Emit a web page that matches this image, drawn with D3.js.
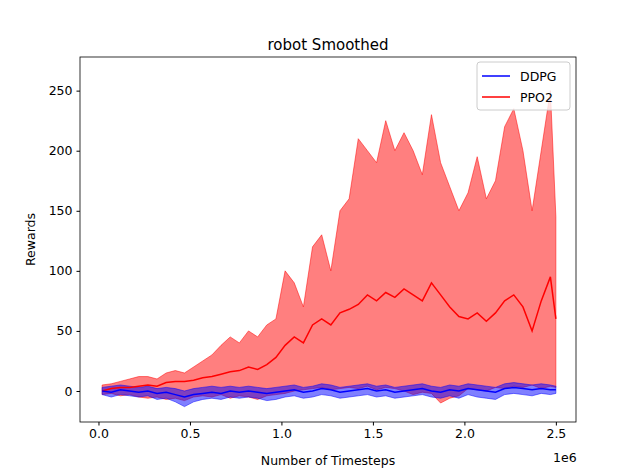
<!DOCTYPE html>
<html><head><meta charset="utf-8">
<script src="https://cdn.jsdelivr.net/npm/d3@7"></script>
<style>body{margin:0;background:#fff}text{font-family:"DejaVu Sans",sans-serif}</style>
</head><body><svg id="c" width="640" height="476"></svg>
<script>
const steps = [0.02,0.07,0.12,0.17,0.22,0.27,0.32,0.37,0.42,0.47,0.52,0.57,0.62,0.67,0.72,0.77,0.82,0.87,0.92,0.97,1.02,1.07,1.12,1.17,1.22,1.27,1.32,1.37,1.42,1.47,1.52,1.57,1.62,1.67,1.72,1.77,1.82,1.87,1.92,1.97,2.02,2.07,2.12,2.17,2.22,2.27,2.32,2.37,2.42,2.47,2.50];
const ppoMean = [0,2,3,3,4,5,4,7,8,8,9,11,12,14,16,17,20,18,22,28,38,45,40,55,60,55,65,68,72,80,75,82,78,85,80,75,90,80,70,62,60,65,58,65,75,80,70,50,75,95,60];
const ppoUpper = [5,6,8,10,12,12,10,15,17,15,20,25,30,38,45,40,50,45,55,60,100,90,70,120,130,100,150,160,210,200,190,225,200,215,200,180,230,190,170,150,165,195,160,175,220,235,200,150,200,250,145];
const ppoLower = [-3,-2,-4,-3,-5,-6,-5,-7,-6,-8,-5,-4,-5,-3,-6,-4,-5,-7,-4,-3,-2,0,1,2,3,1,2,3,2,4,1,3,2,0,-3,-1,-2,-10,-6,-4,2,1,0,3,2,4,3,5,2,4,3];
const ddpgMean = [0,-1,1,0,-1,0,-2,-1,-3,-5,-3,-2,-1,-2,0,-1,0,-1,-2,-1,0,1,-1,0,2,1,-1,0,1,2,0,1,-1,0,1,2,0,-1,1,0,2,1,0,-1,2,3,2,1,2,1,1];
const ddpgUpper = [3,4,5,4,3,4,2,3,2,0,2,3,4,3,4,3,4,3,2,3,4,5,3,4,6,5,3,4,5,6,4,5,3,4,5,6,4,3,5,4,6,5,4,3,6,7,6,5,6,5,4];
const ddpgLower = [-3,-5,-3,-4,-5,-4,-7,-6,-9,-13,-9,-7,-6,-7,-5,-6,-5,-6,-8,-7,-5,-4,-6,-5,-3,-4,-6,-5,-4,-3,-5,-4,-6,-5,-4,-3,-5,-6,-4,-6,-3,-5,-6,-7,-3,-2,-3,-4,-2,-3,-2];
const xTicks=[0,0.5,1.0,1.5,2.0,2.5], yTicks=[0,50,100,150,200,250];

const svg=d3.select("#c");
const L=80,R=576,T=57,B=422;
const x=d3.scaleLinear().domain([-0.101,2.61]).range([L,R]);
const y=d3.scaleLinear().domain([-25.8,278]).range([B,T]);
const g=svg.append("g");
function band(up,lo,col){
  g.append("path").datum(steps.map((s,i)=>[s,up[i],lo[i]]))
   .attr("d",d3.area().x(d=>x(d[0])).y0(d=>y(d[2])).y1(d=>y(d[1])))
   .attr("fill",col).attr("fill-opacity",0.5).attr("stroke",col).attr("stroke-opacity",0.5);
}
function line(m,col){
  g.append("path").datum(steps.map((s,i)=>[s,m[i]]))
   .attr("d",d3.line().x(d=>x(d[0])).y(d=>y(d[1]))).attr("fill","none").attr("stroke",col).attr("stroke-width",1.5);
}
band(ppoUpper,ppoLower,"red");
band(ddpgUpper,ddpgLower,"blue");
line(ppoMean,"red");
line(ddpgMean,"blue");
svg.append("rect").attr("x",L).attr("y",T).attr("width",R-L).attr("height",B-T).attr("fill","none").attr("stroke","#000").attr("stroke-width",0.8);
const xa=svg.append("g").attr("transform",`translate(0,${B})`).call(d3.axisBottom(x).tickValues(xTicks).tickFormat(d3.format(".1f")).tickSize(3.5).tickPadding(4));
const ya=svg.append("g").attr("transform",`translate(${L},0)`).call(d3.axisLeft(y).tickValues(yTicks).tickSize(3.5).tickPadding(4));
[xa,ya].forEach(a=>{a.select(".domain").remove();a.selectAll("text").attr("font-size",12.5).attr("fill","#000").style("font-family","DejaVu Sans");});
svg.append("text").attr("x",553).attr("y",462).attr("font-size",12.5).text("1e6");
svg.append("text").attr("x",(L+R)/2).attr("y",465).attr("text-anchor","middle").attr("font-size",12.5).text("Number of Timesteps");
svg.append("text").attr("transform",`translate(35,${(T+B)/2}) rotate(-90)`).attr("text-anchor","middle").attr("font-size",12.5).text("Rewards");
svg.append("text").attr("x",(L+R)/2).attr("y",50).attr("text-anchor","middle").attr("font-size",15).text("robot Smoothed");
const lg=svg.append("g");
lg.append("rect").attr("x",477).attr("y",62).attr("width",93).attr("height",48).attr("rx",3).attr("fill","#fff").attr("fill-opacity",0.8).attr("stroke","#ccc");
[["DDPG","blue",76],["PPO2","red",97]].forEach(([t,c,yy])=>{
  lg.append("line").attr("x1",482).attr("x2",510).attr("y1",yy).attr("y2",yy).attr("stroke",c).attr("stroke-width",1.5);
  lg.append("text").attr("x",520).attr("y",yy+5).attr("font-size",12.5).text(t);
});
</script></body></html>
